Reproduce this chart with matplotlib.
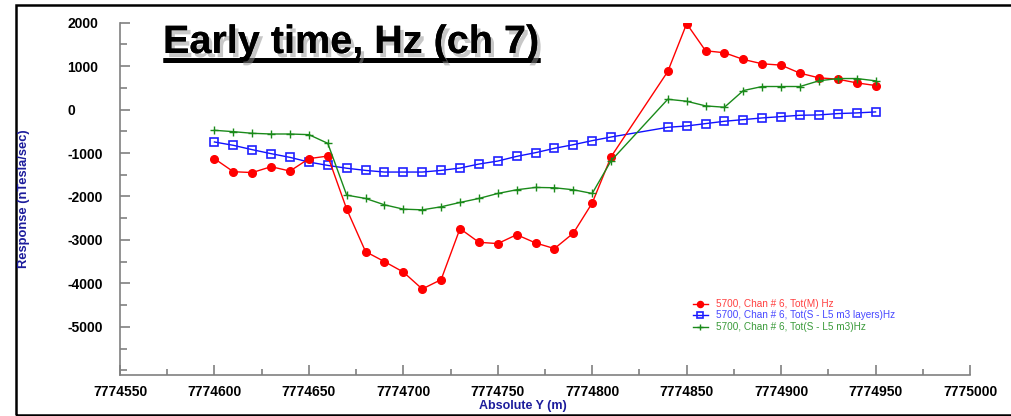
import matplotlib
matplotlib.use("Agg")
import matplotlib.pyplot as plt
import matplotlib.patheffects as pe
from matplotlib.patches import Rectangle
from matplotlib.ticker import MultipleLocator
from matplotlib.lines import Line2D

# ---- data ----
y_pos = [7774600, 7774610, 7774620, 7774630, 7774640, 7774650, 7774660, 7774670,
         7774680, 7774690, 7774700, 7774710, 7774720, 7774730, 7774740, 7774750,
         7774760, 7774770, 7774780, 7774790, 7774800, 7774810,
         7774840, 7774850, 7774860, 7774870, 7774880, 7774890, 7774900, 7774910,
         7774920, 7774930, 7774940, 7774950]

tot_m = [-1130, -1430, -1450, -1315, -1415, -1130, -1070, -2290,
         -3270, -3500, -3740, -4130, -3915, -2740, -3055, -3085,
         -2880, -3070, -3200, -2845, -2150, -1085,
         877, 1977, 1354, 1308, 1154, 1054, 1023, 838,
         731, 700, 615, 554]

tot_layers = [-746, -823, -923, -1015, -1100, -1208, -1285, -1350,
              -1400, -1438, -1438, -1438, -1400, -1346, -1254, -1185,
              -1077, -992, -892, -808, -715, -631,
              -408, -377, -323, -269, -231, -192, -162, -131,
              -123, -92, -77, -54]

tot_m3 = [-477, -508, -546, -562, -562, -577, -777, -1969,
          -2046, -2192, -2292, -2308, -2238, -2138, -2046, -1931,
          -1846, -1792, -1800, -1846, -1931, -1177,
          238, 192, 85, 54, 438, 531, 531, 531,
          662, 715, 715, 662]

labels = ["5700, Chan # 6, Tot(M) Hz",
          "5700, Chan # 6, Tot(S - L5 m3 layers)Hz",
          "5700, Chan # 6, Tot(S - L5 m3)Hz"]

x_ticks = [7774550, 7774600, 7774650, 7774700, 7774750, 7774800,
           7774850, 7774900, 7774950, 7775000]
y_ticks = [2000, 1000, 0, -1000, -2000, -3000, -4000, -5000]

title = "Early time, Hz (ch 7)"

# ---- figure ----
W, H = 1012, 416
fig = plt.figure(figsize=(W / 100, H / 100), dpi=100)
plt.rcParams['font.family'] = ['Liberation Sans', 'DejaVu Sans']

ax = fig.add_axes([120 / W, (H - 375) / H, 850 / W, (375 - 22.7) / H])

ax.plot(y_pos, tot_m, color='#ff0000', lw=1.0, marker='o', ms=5.5,
        mec='#ff0000', mfc='#ff0000', label=labels[0], zorder=3)
ax.plot(y_pos, tot_layers, color='#1010ff', lw=1.0, marker='s', ms=6,
        mfc='none', mec='#2020ff', mew=1.2, label=labels[1], zorder=2)
ax.plot(y_pos, tot_m3, color='#1a8a1a', lw=1.0, marker='+', ms=6,
        mew=1.0, label=labels[2], zorder=4)

ax.set_xlim(7774550, 7775000)
ax.set_ylim(-6110, 2000)
ax.set_xticks(x_ticks)
ax.set_yticks(y_ticks)
ax.set_xticklabels([str(v) for v in x_ticks])
ax.set_yticklabels([str(v) for v in y_ticks])
ax.xaxis.set_minor_locator(MultipleLocator(25))
ax.yaxis.set_minor_locator(MultipleLocator(500))

for s in ['top', 'right']:
    ax.spines[s].set_visible(False)
for s in ['left', 'bottom']:
    ax.spines[s].set_color('#808080')
    ax.spines[s].set_linewidth(1.2)

ax.tick_params(axis='both', which='both', direction='in', color='#808080', width=1.2)
ax.tick_params(axis='y', which='major', length=7.5, pad=38)
ax.tick_params(axis='y', which='minor', length=5)
ax.tick_params(axis='x', which='major', length=7, pad=7)
ax.tick_params(axis='x', which='minor', length=4)
for lab in ax.get_yticklabels():
    lab.set_horizontalalignment('left')
    lab.set_fontweight('bold')
    lab.set_fontsize(10)
for lab in ax.get_xticklabels():
    lab.set_fontweight('bold')
    lab.set_fontsize(10)

fig.text(24 / W, 1 - 199 / H, "Response (nTesla/sec)", rotation=90, ha='center',
         va='center', fontsize=9.3, fontweight='bold', color='#1c1c9c')
fig.text(523 / W, 1 - 406 / H, "Absolute Y (m)", ha='center', va='center',
         fontsize=9, fontweight='bold', color='#1c1c9c')

# legend
leg = ax.legend(loc='upper left', bbox_to_anchor=(688 / W, 1 - 294 / H),
                bbox_transform=fig.transFigure, frameon=False, fontsize=7.2,
                handlelength=1.5, handletextpad=0.8, labelspacing=0.15,
                borderpad=0, labelcolor=['#ff4040', '#4848ff', '#3a9a3a'],
                markerscale=0.8)

# title with shadow and underline
shadow = [pe.withSimplePatchShadow(offset=(2.5, -3), shadow_rgbFace='#909090', alpha=0.5),
          pe.Normal()]
t = fig.text(163 / W, 1 - 53 / H, title, ha='left', va='baseline', fontsize=28.5,
             fontweight='bold', color='black', path_effects=shadow)
fig.add_artist(Line2D([163 / W, 540 / W], [1 - 59.5 / H, 1 - 59.5 / H],
                      transform=fig.transFigure, color='black', lw=3.5,
                      solid_capstyle='butt', path_effects=shadow))

# outer frame
fig.add_artist(Rectangle((16 / W, 1.5 / H), 1.1, (4.5 - 1.5) / H + (H - 9) / H,
                         transform=fig.transFigure, fill=False, ec='black', lw=1.8))

fig.savefig("out.png", dpi=100)
